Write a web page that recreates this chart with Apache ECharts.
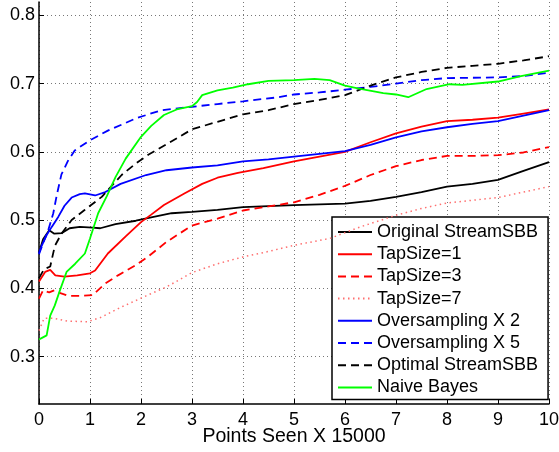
<!DOCTYPE html>
<html>
<head>
<meta charset="utf-8">
<script src="https://cdn.jsdelivr.net/npm/echarts@6/dist/echarts.min.js"></script>
<style>
html,body{margin:0;padding:0;background:#fff;}
#chart{width:559px;height:452px;}
</style>
</head>
<body>
<div id="chart"></div>
<script>
var seriesNames = ['Original StreamSBB','TapSize=1','TapSize=3','TapSize=7','Oversampling X 2','Oversampling X 5','Optimal StreamSBB','Naive Bayes'];
var xTicks = [0,1,2,3,4,5,6,7,8,9,10];
var yTicks = [0.3,0.4,0.5,0.6,0.7,0.8];

var originalStreamSBB = [[0,0.452],[0.08,0.472],[0.2,0.485],[0.3,0.48],[0.45,0.481],[0.6,0.488],[0.8,0.49],[1.05,0.489],[1.2,0.488],[1.5,0.494],[1.9,0.499],[2.2,0.504],[2.6,0.51],[3.0,0.512],[3.5,0.515],[4.0,0.519],[5.0,0.522],[6.0,0.524],[6.5,0.528],[7.0,0.534],[7.5,0.541],[8.0,0.549],[8.5,0.553],[9.0,0.559],[9.5,0.572],[10,0.585]];
var tapSize1 = [[0,0.41],[0.12,0.424],[0.22,0.427],[0.32,0.419],[0.5,0.417],[0.75,0.419],[1.0,0.422],[1.1,0.426],[1.35,0.451],[1.7,0.476],[2.0,0.497],[2.2,0.508],[2.45,0.522],[2.85,0.539],[3.2,0.553],[3.5,0.562],[3.9,0.569],[4.4,0.576],[5.0,0.586],[5.5,0.593],[6.0,0.6],[6.5,0.614],[7.0,0.627],[7.5,0.637],[8.0,0.645],[8.5,0.647],[9.0,0.65],[9.5,0.656],[10,0.662]];
var tapSize3 = [[0,0.385],[0.08,0.397],[0.2,0.394],[0.3,0.397],[0.42,0.393],[0.57,0.389],[0.85,0.389],[1.05,0.39],[1.3,0.407],[1.55,0.419],[1.9,0.434],[2.15,0.447],[2.5,0.468],[3.0,0.492],[3.5,0.502],[4.0,0.514],[4.5,0.52],[5.0,0.526],[5.5,0.537],[6.0,0.55],[6.5,0.566],[7.0,0.579],[7.5,0.588],[8.0,0.594],[8.5,0.594],[9.0,0.595],[9.5,0.599],[10,0.607]];
var tapSize7 = [[0,0.338],[0.1,0.356],[0.3,0.356],[0.55,0.352],[0.95,0.351],[1.2,0.357],[1.6,0.372],[2.1,0.389],[2.5,0.402],[3.0,0.423],[3.5,0.436],[4.0,0.446],[4.5,0.454],[5.0,0.463],[5.7,0.473],[6.3,0.49],[7.0,0.507],[7.5,0.517],[8.0,0.525],[8.5,0.529],[9.0,0.533],[9.5,0.541],[10,0.549]];
var oversampling2 = [[0,0.452],[0.05,0.462],[0.15,0.478],[0.25,0.49],[0.38,0.505],[0.5,0.521],[0.64,0.533],[0.8,0.538],[0.9,0.539],[1.1,0.536],[1.3,0.541],[1.6,0.553],[2.1,0.566],[2.5,0.573],[3.0,0.577],[3.5,0.58],[4.0,0.586],[4.5,0.589],[5.0,0.593],[5.5,0.597],[6.0,0.601],[6.5,0.61],[7.0,0.621],[7.5,0.63],[8.0,0.636],[8.5,0.641],[9.0,0.645],[9.5,0.653],[10,0.661]];
var oversampling5 = [[0,0.45],[0.1,0.47],[0.18,0.485],[0.28,0.51],[0.35,0.537],[0.44,0.567],[0.57,0.587],[0.7,0.602],[1.0,0.617],[1.35,0.631],[1.9,0.649],[2.4,0.661],[3.0,0.666],[3.5,0.67],[4.0,0.674],[4.7,0.68],[5.0,0.684],[5.5,0.687],[6.0,0.691],[6.5,0.695],[7.0,0.7],[7.5,0.705],[8.0,0.708],[9.0,0.709],[9.5,0.711],[10,0.716]];
var optimalStreamSBB = [[0,0.415],[0.1,0.428],[0.22,0.432],[0.31,0.462],[0.44,0.48],[0.64,0.5],[0.9,0.515],[1.23,0.534],[1.62,0.566],[1.9,0.583],[2.15,0.596],[2.5,0.611],[3.0,0.633],[3.5,0.644],[4.0,0.655],[4.5,0.661],[5.0,0.67],[5.5,0.676],[6.0,0.683],[6.5,0.697],[7.0,0.709],[7.5,0.717],[8.0,0.723],[8.5,0.726],[9.0,0.729],[9.5,0.734],[10,0.74]];
var naiveBayes = [[0,0.325],[0.05,0.327],[0.15,0.331],[0.22,0.36],[0.31,0.375],[0.41,0.397],[0.54,0.424],[0.71,0.436],[0.9,0.451],[1.0,0.473],[1.16,0.51],[1.33,0.535],[1.5,0.563],[1.7,0.59],[2.0,0.622],[2.2,0.638],[2.45,0.654],[2.7,0.662],[3.0,0.667],[3.1,0.673],[3.2,0.683],[3.5,0.69],[3.8,0.694],[4.1,0.699],[4.5,0.704],[5.0,0.705],[5.4,0.707],[5.7,0.705],[6.0,0.697],[6.25,0.693],[6.75,0.686],[7.0,0.684],[7.24,0.68],[7.6,0.692],[8.05,0.699],[8.3,0.698],[9.0,0.703],[9.45,0.711],[10,0.719]];

var seriesData = [originalStreamSBB, tapSize1, tapSize3, tapSize7, oversampling2, oversampling5, optimalStreamSBB, naiveBayes];
var seriesColors = ['#000000','#ff0000','#ff0000','#ff7070','#0000ff','#0000ff','#000000','#00ff00'];
var seriesTypes = ['solid','solid',[8,5],[1.5,3.5],'solid',[8,5],[8,5],'solid'];
var seriesWidths = [1.8,1.8,1.8,1.5,1.8,1.8,1.8,1.8];

var FONT = '"Liberation Sans", Arial, Helvetica, sans-serif';
var chart = echarts.init(document.getElementById('chart'), null, {renderer:'canvas'});

var series = seriesNames.map(function(n,i){
  return {
    name: n, type:'line', data: seriesData[i], symbol:'none', smooth:false,
    lineStyle:{color:seriesColors[i], width:seriesWidths[i], type:seriesTypes[i]},
    itemStyle:{color:seriesColors[i]},
    animation:false, z: 2+i
  };
});

chart.setOption({
  animation:false,
  backgroundColor:'#ffffff',
  grid:{left:39, right:10, top:2, bottom:48, containLabel:false, outerBoundsMode:'none'},
  xAxis:{
    type:'value', min:0, max:10, interval:1,
    name:'Points Seen X 15000', nameLocation:'middle', nameGap:23, nameMoveOverlap:false,
    nameTextStyle:{fontFamily:FONT, fontSize:19.5, color:'#000'},
    axisLine:{show:true, onZero:false, lineStyle:{color:'#000', width:1.5}},
    axisTick:{show:true, inside:true, length:5, lineStyle:{color:'#000'}},
    axisLabel:{fontFamily:FONT, fontSize:18, color:'#000', margin:7, formatter:function(v){return xTicks.indexOf(v)>=0? String(v):'';}},
    splitLine:{show:true, lineStyle:{color:'#777', type:[1,3], width:1}}
  },
  yAxis:{
    type:'value', min:0.2305, max:0.8195,
    axisLine:{show:true, lineStyle:{color:'#000', width:1.5}},
    axisTick:{show:true, inside:true, length:5, customValues:yTicks, lineStyle:{color:'#000'}},
    axisLabel:{fontFamily:FONT, fontSize:18, color:'#000', margin:4, customValues:yTicks, formatter:function(v){return v.toFixed(1);}},
    splitLine:{show:true, lineStyle:{color:'#777', type:[1,3], width:1}}
  },
  legend:{
    orient:'vertical', left:332, top:217, width:200,
    backgroundColor:'#fff', borderColor:'#000', borderWidth:1.5, borderRadius:0,
    padding:[6,10,3,5],
    itemWidth:34, itemHeight:14, itemGap:4.2,
    itemStyle:{color:'rgba(0,0,0,0)', borderColor:'rgba(0,0,0,0)', borderWidth:0, opacity:0},
    textStyle:{fontFamily:FONT, fontSize:18, color:'#000', lineHeight:18},
    data: seriesNames,
    selectedMode:false
  },
  series: series
});
</script>
</body>
</html>
